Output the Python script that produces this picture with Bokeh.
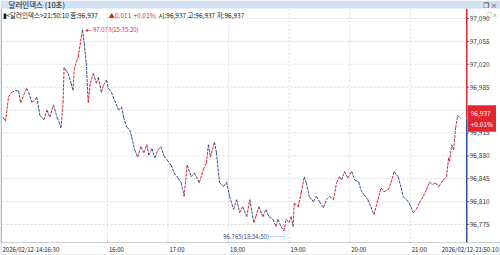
import pandas as pd
from bokeh.plotting import figure
from bokeh.models import Range1d, Label, BoxAnnotation
from bokeh.embed import file_html
from bokeh.resources import INLINE

DAY = "2026-02-12"

times = ["14:16:30","14:19","14:22","14:25","14:29","14:32","14:34","14:37","14:40","14:42",
         "14:45","14:48","14:50","14:53","14:57","15:00","15:03","15:06:30","15:10","15:12",
         "15:14","15:16","15:17","15:19","15:21","15:24","15:26","15:27","15:29","15:31",
         "15:34","15:35:20","15:37","15:39","15:41","15:43","15:46","15:49","15:51","15:54",
         "15:56","15:59","16:01","16:04","16:07","16:11","16:14","16:16","16:19","16:22",
         "16:24","16:27","16:30","16:33","16:36","16:39","16:41","16:44","16:47","16:50",
         "16:53","16:56","16:59","17:03","17:06","17:10","17:13","17:16","17:19","17:23",
         "17:26","17:31","17:35","17:38","17:40","17:42","17:46","17:48","17:51","17:55",
         "17:58","18:01","18:05","18:08","18:11","18:14","18:18","18:21","18:25","18:27",
         "18:30","18:34","18:37","18:40","18:44","18:47","18:49","18:52","18:54:50","18:57",
         "19:00","19:02","19:04","19:05","19:09","19:12","19:15","19:17","19:20","19:24",
         "19:27","19:30","19:34","19:37","19:40","19:44","19:47","19:50","19:52","19:55",
         "19:58","20:02","20:05","20:09","20:11","20:14","20:18","20:21","20:24","20:28",
         "20:31","20:34","20:38","20:41","20:44","20:48","20:51","20:53","20:56","20:59",
         "21:03","21:06","21:09","21:13","21:16","21:19","21:22","21:25","21:28","21:33",
         "21:36","21:38","21:39","21:41","21:43","21:45","21:47","21:50:10"]

prices = [96.939,96.933,96.970,96.977,96.980,96.979,96.961,96.973,96.983,96.977,
          96.962,96.965,96.970,96.942,96.935,96.950,96.939,96.958,96.939,96.932,
          96.923,96.961,97.015,97.011,97.006,96.991,96.980,97.011,97.023,97.031,
          97.061,97.073,97.052,97.022,96.961,96.991,97.006,96.991,97.000,96.977,
          96.988,96.996,96.983,96.977,96.965,96.950,96.955,96.939,96.924,96.920,
          96.909,96.889,96.878,96.894,96.885,96.897,96.881,96.891,96.877,96.889,
          96.894,96.880,96.874,96.866,96.854,96.846,96.839,96.818,96.866,96.848,
          96.854,96.839,96.859,96.869,96.897,96.878,96.901,96.885,96.839,96.833,
          96.840,96.818,96.798,96.813,96.793,96.802,96.787,96.813,96.778,96.787,
          96.802,96.787,96.798,96.787,96.783,96.772,96.783,96.772,96.765,96.783,
          96.778,96.787,96.772,96.808,96.802,96.824,96.848,96.839,96.818,96.810,
          96.818,96.810,96.801,96.813,96.818,96.813,96.839,96.848,96.843,96.856,
          96.846,96.856,96.843,96.840,96.828,96.821,96.813,96.802,96.790,96.813,
          96.831,96.825,96.828,96.839,96.856,96.848,96.831,96.818,96.813,96.808,
          96.793,96.798,96.808,96.818,96.828,96.840,96.836,96.839,96.833,96.843,
          96.848,96.877,96.871,96.897,96.889,96.923,96.942,96.937]

y_ticks = [96.775, 96.810, 96.845, 96.880, 96.915, 96.950, 96.985, 97.020, 97.055, 97.090]
y_tick_labels = ["96,775", "96,810", "96,845", "96,880", "96,915",
                 "96,950", "96,985", "97,020", "97,055", "97,090"]
x_ticks = ["16:00", "17:00", "18:00", "19:00", "20:00", "21:00"]
start_label = "2026/02/12-14:16:30"
end_label = "2026/02/12-21:50:10"
max_time, max_price = "15:35:20", 97.073
min_time, min_price = "18:54:50", 96.765
last_price = 96.937
title_text = "달러인덱스 (10초)"
info_black1 = "▮<달러인덱스>21:50:10 종:96,937"
info_red1 = "▲0.011"
info_red2 = "+0.01%"
info_black2 = "시:96,937 고:96,937 저:96,937"
box_text = "96,937\n+0.01%"

# visible window of the chart pane
view_x0, view_x1 = "14:16:00", "21:56:00"
view_y0, view_y1 = 96.7475, 97.1053


def ts(s):
    return pd.Timestamp(f"{DAY} {s}")


t = [ts(s) for s in times]

W, H = 500, 255
ML, MR, MT, MB = 2, 34, 8, 13          # pane margins (title bar, axis strips)
PW, PH = W - ML - MR, H - MT - MB

X0, X1 = ts(view_x0), ts(view_x1)
dx = (X1 - X0) / PW                    # time per pixel
dy = (view_y1 - view_y0) / PH          # price per pixel

RED = "#e3262b"
BLUE = "#2b4f9e"
FONT = "Noto Sans CJK KR"
TXT = "#222222"

p = figure(width=W, height=H,
           x_range=Range1d(X0 - ML * dx, X1 + MR * dx),
           y_range=Range1d(view_y0 - MB * dy, view_y1 + MT * dy),
           x_axis_type="datetime", x_axis_location=None, y_axis_location=None,
           output_backend="svg", toolbar_location=None,
           min_border=0, background_fill_color="white", border_fill_color="white",
           outline_line_color=None)
p.grid.visible = False

# grid (dotted) inside the pane
p.segment(x0=[X0] * len(y_ticks), x1=[X1] * len(y_ticks), y0=y_ticks, y1=y_ticks,
          line_color="#dadada", line_dash="2 2", line_width=1)
hx = [ts(h) for h in x_ticks]
p.segment(x0=hx, x1=hx, y0=[view_y0] * len(hx), y1=[view_y1] * len(hx),
          line_color="#dadada", line_dash="2 2", line_width=1)

# price path, coloured red when rising and blue when falling
cols = [RED if b >= a else BLUE for a, b in zip(prices[:-1], prices[1:])]
p.segment(x0=t[:-1], y0=prices[:-1], x1=t[1:], y1=prices[1:], line_color=cols,
          line_width=1, line_dash="3 1")

# right price axis: red above the last price, blue below
p.segment(x0=[X1, X1], x1=[X1, X1], y0=[last_price, view_y0], y1=[view_y1, last_price],
          line_color=[RED, BLUE], line_width=1.5)
p.segment(x0=[X1] * len(y_ticks), x1=[X1 + 2 * dx] * len(y_ticks), y0=y_ticks, y1=y_ticks,
          line_color="#555555", line_width=1)
for v, s in zip(y_ticks, y_tick_labels):
    p.add_layout(Label(x=X1, y=v, text=s, x_offset=3, text_font=FONT, text_font_size="6.5px",
                       text_baseline="middle", text_color="#333333"))

# last price box
p.add_layout(Label(x=X1, y=last_price, text=box_text, x_offset=1, text_font=FONT,
                   text_font_size="6.5px", text_baseline="middle", text_color="white",
                   text_align="left", background_fill_color=RED, background_fill_alpha=1,
                   text_line_height=1.05, padding=3))

# title bar
p.add_layout(BoxAnnotation(left=0, right=W, bottom=H - MT, top=H,
                           left_units="screen", right_units="screen",
                           bottom_units="screen", top_units="screen",
                           fill_color="#d2e2f3", fill_alpha=1, line_color=None))
p.add_layout(Label(x=8, y=H - 4, x_units="screen", y_units="screen", text=title_text,
                   text_font=FONT, text_font_size="7.5px", text_baseline="middle", text_color="#111111"))
p.add_layout(Label(x=W - 3, y=H - 4, x_units="screen", y_units="screen", text="❐ ×",
                   text_font=FONT, text_font_size="7px", text_baseline="middle",
                   text_align="right", text_color="#333333"))
p.add_layout(Label(x=W - 3, y=H - 14, x_units="screen", y_units="screen", text="□×",
                   text_font=FONT, text_font_size="5.5px", text_baseline="middle",
                   text_align="right", text_color="#777777"))

# info line
for xx, txt, col in [(2, info_black1, "#111111"), (108, info_red1, RED),
                     (133, info_red2, RED), (158, info_black2, "#111111")]:
    p.add_layout(Label(x=xx, y=H - 14.5, x_units="screen", y_units="screen", text=txt,
                       text_font=FONT, text_font_size="6.5px", text_baseline="middle",
                       text_color=col))

# max / min annotations
p.add_layout(Label(x=ts(max_time), y=max_price, text=f"◂—{max_price:.3f}({max_time})",
                   x_offset=2, text_font=FONT, text_font_size="6px", text_baseline="middle",
                   text_color=RED))
p.add_layout(Label(x=ts(min_time), y=min_price, text=f"{min_price:.3f}({min_time})──┘",
                   x_offset=3, y_offset=-5, text_align="right", text_font=FONT,
                   text_font_size="6px", text_baseline="middle", text_color=BLUE))

# bottom time strip
p.add_layout(BoxAnnotation(left=0.5, right=W - 0.5, bottom=0.5, top=MB,
                           left_units="screen", right_units="screen",
                           bottom_units="screen", top_units="screen",
                           fill_color="white", fill_alpha=1, line_color="#666666", line_width=1))
p.segment(x0=hx, x1=hx, y0=[view_y0] * len(hx), y1=[view_y0 - 4 * dy] * len(hx),
          line_color="#555555", line_width=1)
for h in x_ticks:
    p.add_layout(Label(x=ts(h), y=MB / 2, y_units="screen", text=h, x_offset=1.5,
                       text_font=FONT, text_font_size="6px", text_baseline="middle",
                       text_color=TXT))
p.add_layout(Label(x=2, y=MB / 2, x_units="screen", y_units="screen", text=start_label,
                   text_font=FONT, text_font_size="6px", text_baseline="middle", text_color=TXT))
p.add_layout(Label(x=W - 2, y=MB / 2, x_units="screen", y_units="screen", text=end_label,
                   text_align="right", text_font=FONT, text_font_size="6px",
                   text_baseline="middle", text_color=TXT))

# left window border
p.add_layout(BoxAnnotation(left=0, right=1.2, bottom=MB, top=H - MT,
                           left_units="screen", right_units="screen",
                           bottom_units="screen", top_units="screen",
                           fill_color="#8ea6c6", fill_alpha=1, line_color=None))

open("out.html", "w").write(file_html(p, INLINE))
